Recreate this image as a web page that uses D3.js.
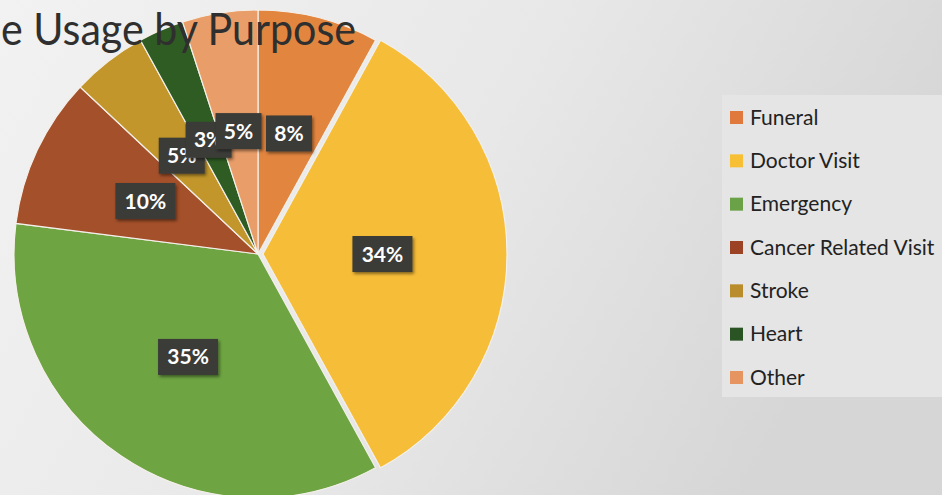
<!DOCTYPE html>
<html>
<head>
<meta charset="utf-8">
<script src="https://cdn.jsdelivr.net/npm/d3@7"></script>
<style>
  html, body { margin: 0; padding: 0; }
  body { width: 942px; height: 495px; overflow: hidden; }
  svg { display: block; font-family: Lato, "Open Sans", sans-serif; }
</style>
</head>
<body>
<div id="chart"></div>
<script>
// chart data
const categories = ["Funeral", "Doctor Visit", "Emergency", "Cancer Related Visit", "Stroke", "Heart", "Other"];
const values = [8, 34, 35, 10, 5, 3, 5];
const colors = ["#e2853f", "#f6bd38", "#6ea442", "#a4502a", "#c2962a", "#2f5c23", "#e99d68"];
const legendColors = ["#df7a3c", "#f7c034", "#6ba247", "#9c4326", "#b98c2c", "#2b5425", "#e69560"];
const titleText = "e Usage by Purpose";

const width = 942, height = 495;
const cx = 258, cy = 254, radius = 244;

const svg = d3.select("#chart").append("svg")
    .attr("width", width)
    .attr("height", height);

// background, photo of a slide: lighter on the left
const defs = svg.append("defs");
const bg = defs.append("linearGradient").attr("id", "bg")
    .attr("x1", "0").attr("y1", "0").attr("x2", "1").attr("y2", "0.3");
bg.append("stop").attr("offset", "0").attr("stop-color", "#f2f2f2");
bg.append("stop").attr("offset", "0.55").attr("stop-color", "#e8e8e8");
bg.append("stop").attr("offset", "1").attr("stop-color", "#d6d6d6");

const shadow = defs.append("filter").attr("id", "shadow")
    .attr("x", "-30%").attr("y", "-30%").attr("width", "160%").attr("height", "160%");
shadow.append("feDropShadow")
    .attr("dx", 1.5).attr("dy", 2).attr("stdDeviation", 1.5)
    .attr("flood-color", "#000").attr("flood-opacity", 0.45);

svg.append("rect").attr("width", width).attr("height", height).attr("fill", "url(#bg)");

// pie
const pie = d3.pie().sort(null).value(d => d.value);
const data = categories.map((c, i) => ({ name: c, value: values[i], color: colors[i] }));
const arcs = pie(data);
const total = d3.sum(values);

const arc = d3.arc().innerRadius(0).outerRadius(radius);
const labelArc = d3.arc().innerRadius(radius * 0.51).outerRadius(radius * 0.51);

const g = svg.append("g").attr("transform", `translate(${cx},${cy})`);

// Doctor Visit slice is pulled out a little
const explode = d => d.data.name === "Doctor Visit" ? 5 : 0;
const offset = d => {
    const a = (d.startAngle + d.endAngle) / 2;
    return [Math.sin(a) * explode(d), -Math.cos(a) * explode(d)];
};

g.selectAll(".slice")
    .data(arcs)
    .enter().append("path")
    .attr("class", "slice")
    .attr("d", arc)
    .attr("transform", d => `translate(${offset(d)})`)
    .attr("fill", d => d.data.color)
    .attr("stroke", "#f4f0ea")
    .attr("stroke-width", 1.2);

// title sits on top of the pie
svg.append("text")
    .attr("x", 1)
    .attr("y", 45)
    .attr("font-size", 45)
    .attr("fill", "#2f2f2f")
    .attr("textLength", 355)
    .attr("lengthAdjust", "spacingAndGlyphs")
    .text(titleText);

// data labels, dark boxes
const labels = g.selectAll(".label")
    .data(arcs)
    .enter().append("g")
    .attr("class", "label")
    .attr("transform", d => {
        const [x, y] = labelArc.centroid(d);
        return `translate(${x},${y})`;
    });

const pct = d => Math.round(d.data.value / total * 100);

labels.append("rect")
    .attr("x", d => pct(d) >= 10 ? -30 : -23)
    .attr("y", -18)
    .attr("width", d => pct(d) >= 10 ? 60 : 46)
    .attr("height", 36)
    .attr("fill", "#3b3a38")
    .attr("filter", "url(#shadow)");

labels.append("text")
    .attr("text-anchor", "middle")
    .attr("dy", "0.36em")
    .attr("font-size", 21)
    .attr("font-weight", 700)
    .attr("fill", "#ffffff")
    .text(d => pct(d) + "%");

// legend
const legend = svg.append("g").attr("transform", "translate(722,95)");
legend.append("rect")
    .attr("width", 222)
    .attr("height", 302)
    .attr("fill", "#e5e5e5");

const legendY = d3.scalePoint().domain(categories).range([22, 282]);

const item = legend.selectAll(".item")
    .data(categories)
    .enter().append("g")
    .attr("class", "item")
    .attr("transform", d => `translate(0,${legendY(d)})`);

item.append("rect")
    .attr("x", 8).attr("y", -6)
    .attr("width", 13).attr("height", 13)
    .attr("fill", (d, i) => legendColors[i]);

item.append("text")
    .attr("x", 28)
    .attr("dy", "0.36em")
    .attr("font-size", 21)
    .attr("fill", "#222")
    .text(d => d);
</script>
</body>
</html>
